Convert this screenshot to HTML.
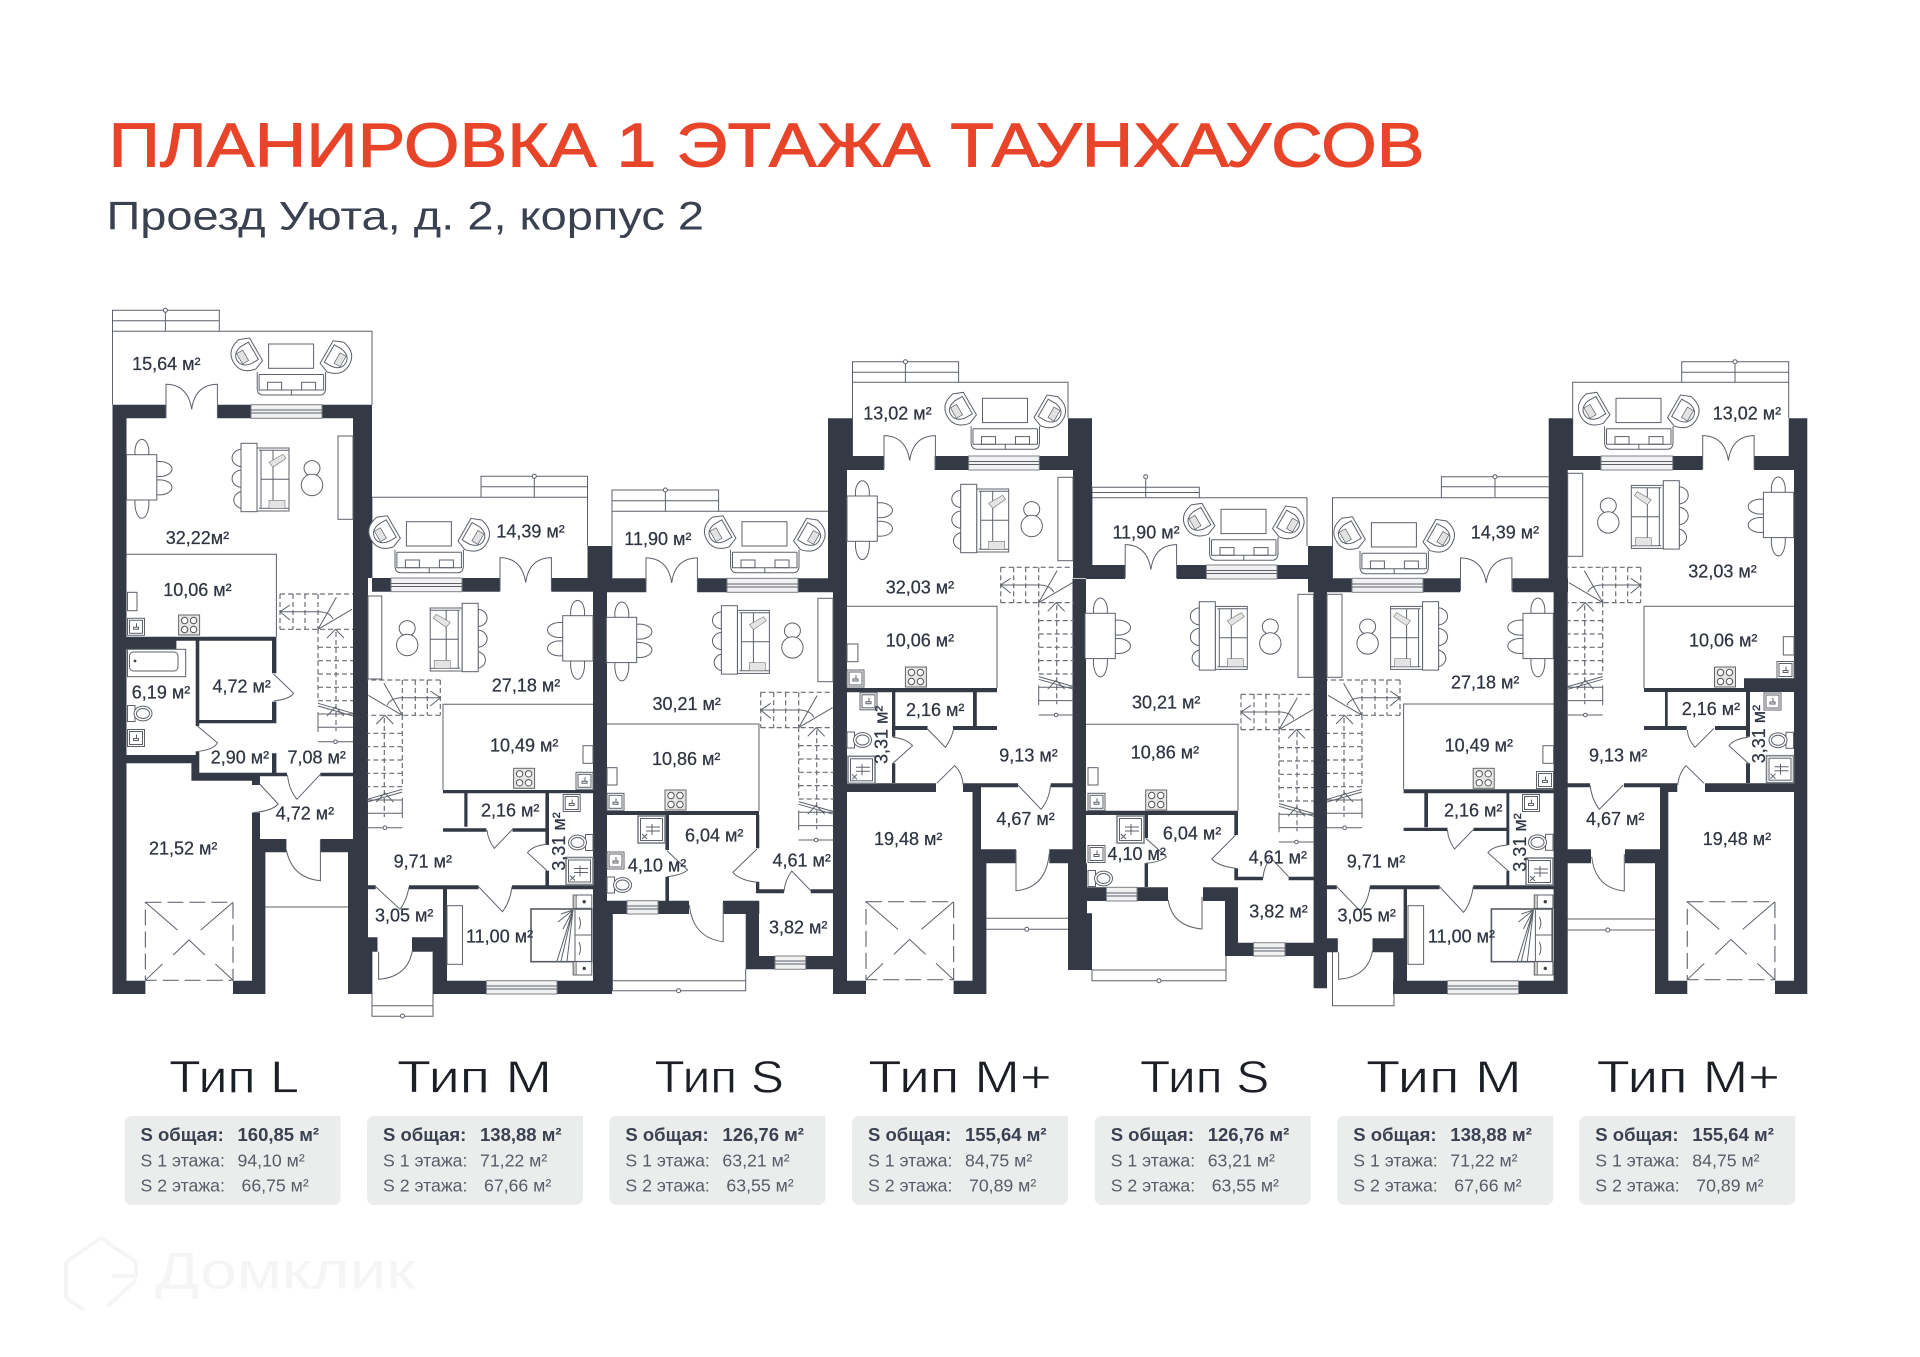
<!DOCTYPE html>
<html lang="ru"><head><meta charset="utf-8"><title>Планировка 1 этажа таунхаусов</title>
<style>
html,body{margin:0;padding:0;background:#fff}
svg{display:block}
text{font-family:"Liberation Sans",sans-serif}
.l{fill:none;stroke:#5c616a;stroke-width:1}
.f{fill:#fff;stroke:#5c616a;stroke-width:1}
.d{fill:none;stroke:#6a6f77;stroke-width:1.2;stroke-dasharray:5 3}
.w{fill:#343a45;stroke:none}
.win{fill:#f1f1f1;stroke:#7d8188;stroke-width:1}
.r{font-size:18px;fill:#2f3542;stroke:#2f3542;stroke-width:.25}
.c1{font-size:18.5px;font-weight:bold;fill:#3a4150}
.c2{font-size:17.7px;fill:#575d68}
.ty{font-size:45px;fill:#1c2026;stroke:#fff;stroke-width:.7}
</style></head><body>
<svg xmlns="http://www.w3.org/2000/svg" width="1920" height="1357" viewBox="0 0 1920 1357">
<defs>
<g id="ch"><path class="f" d="M8 -13L8 13L-2 17Q-18 14-18 0Q-18 -14-2 -17Z"/><path class="l" d="M5 -10V10H-4Q-14 8-14 0Q-14 -8-4 -10Z"/><rect x="-11" y="-6" width="7" height="12" fill="#e2e2e2" stroke="#5c616a" stroke-width=".7"/></g>
<g id="bal"><rect class="f" x="0" y="0" width="45" height="24.3"/><use href="#ch" transform="translate(-19.5,9.3) rotate(-30)"/><use href="#ch" transform="translate(65,12) rotate(-150)"/><path class="l" d="M-11.4 28V44Q-11.4 50.5-6 51H52Q57 50.5 57 44V28M-9.5 30.5H55M-9.5 30.5V46H55V30.5M22.8 46V51"/><rect class="l" x="-1" y="38.3" width="14" height="7.7"/><rect class="l" x="33" y="38.3" width="14" height="7.7"/></g>
<g id="sf"><path class="f" d="M0 6A10 8.7 0 0 0 0 23.3ZM0 26.7A10 8.7 0 0 0 0 44ZM0 48.3A10 8.7 0 0 0 0 65Z"/><rect class="f" x="16" y="4.7" width="32" height="63"/><path class="l" d="M20 7V65M32 7V65M20 36H48M18 7H48M18 65H48"/><path d="M28 19L42 11L45 15L32 24ZM28 57H44V65H28Z" fill="#e4e4e4" stroke="#777" stroke-width=".6"/><rect class="f" x="0" y="0" width="16" height="68.4"/><ellipse class="f" cx="71" cy="25" rx="8" ry="7.7"/><ellipse class="f" cx="71" cy="41.7" rx="10.7" ry="10.7"/></g>
<g id="dn"><ellipse class="f" cx="15.4" cy="-3" rx="7" ry="12.3"/><ellipse class="f" cx="15.4" cy="48.3" rx="7" ry="15.3"/><ellipse class="f" cx="33" cy="14.3" rx="12.5" ry="7.5"/><ellipse class="f" cx="33" cy="32.7" rx="12.5" ry="7.5"/><rect class="f" x="0" y="0" width="30.3" height="45.3"/></g>
<g id="stv"><rect x="0" y="0" width="21" height="20" fill="#e6e6e6" stroke="#666" stroke-width="1"/><g fill="#fff" stroke="#555" stroke-width="1"><circle cx="6" cy="5.5" r="3.2"/><circle cx="15" cy="5.5" r="3.2"/><circle cx="6" cy="14.5" r="3.2"/><circle cx="15" cy="14.5" r="3.2"/></g></g>
<g id="snk"><rect class="f" x="0" y="0" width="17" height="17" stroke="#777"/><rect class="l" x="2" y="2" width="13" height="13"/><path class="l" d="M6 9H11V11H6ZM9 5V9"/></g>
<g id="wc"><rect class="f" x="0" y="0" width="7.5" height="16"/><ellipse class="f" cx="15.5" cy="8" rx="9" ry="7.4"/><ellipse class="l" cx="15.5" cy="8" rx="6.5" ry="5"/></g>
<g id="sh"><rect x="0" y="0" width="27" height="27" fill="#fff" stroke="#7d8188" stroke-width="1.6"/><rect class="l" x="2.5" y="2.5" width="22" height="22"/><path class="l" d="M14 8V19M8 11H22M8 15H22M4 18L9 23M9 18L4 23"/></g>
<g id="bd"><rect x="0" y="0" width="60.8" height="52.7" fill="#fff" stroke="#555b63" stroke-width="1.6"/><path class="l" d="M44 1V52M44 26H60M42 1L27 13M42 1L30 5M42 1L32 20M42 1L30 52M42 1L26 52M42 1L36 52M48 8Q51 14 48 20M48 33Q51 40 48 46"/></g>
<g id="ns"><rect class="f" x="0" y="0" width="18.6" height="13.3"/><rect x="0" y="0" width="3" height="13.3" fill="#ccc" stroke="#555" stroke-width=".7"/><circle cx="11" cy="6.7" r="1.7" fill="#444"/></g>
<g id="gar"><path class="d" style="stroke-dasharray:16 6" d="M0 0H87.6V78H0Z"/><path class="l" d="M0 0L32 27.7M87.6 0L55.4 27.7M27.9 52.7L43.6 37.7L59.6 52.7M17 61.7L0 78M70 61.7L87.6 78"/></g>
<g id="stairs"><path class="d" d="M0 0H73M0 35.3H73M0 0V35.3M13 0V35.3M25 0V35.3M38 0V35.3M38 35V107M56 38V137M38 53.3H73M38 66.7H73M38 80H73M38 93.3H73M38 106.7H73"/><path class="l" d="M10 11L0 17.7L10 26M0 17.7H38.5Q50 18 53 25M38 35.3L56.4 3.3M38 35.3L72 15.3M47 44L55.4 35.3L64 44M38 109.3L73 119.3M38 112L73 122M38 120H73M38 133.3H73M38 118V138M38 147.7H73M47 122L55.4 113L64 122"/><circle class="f" cx="55.4" cy="147.7" r="1.8"/></g>
<g id="dd"><path class="l" d="M0 13V-20.4Q22 -20 25.7 4.6Q29 -20 51.4 -20.4V13"/></g>
<path id="card" d="M8 0H216V81Q216 89 208 89H8Q0 89 0 81V8Q0 0 8 0Z" fill="#ebecec"/>
</defs>

<!-- Title -->
<text x="108.5" y="166.7" font-size="62" fill="#e8442a" stroke="#e8442a" stroke-width="1" textLength="1316" lengthAdjust="spacingAndGlyphs">ПЛАНИРОВКА 1 ЭТАЖА ТАУНХАУСОВ</text>
<text x="106.5" y="229.3" font-size="40" fill="#3a4150" textLength="597.5" lengthAdjust="spacingAndGlyphs">Проезд Уюта, д. 2, корпус 2</text>

<!-- Balconies, rails, porches -->
<path class="l" d="M112.5 404.7V331.3H372V404.7M112.5 331.3V310.3H219.3V331.3M112.5 320.7H219.3M165.4 312V331
M372 578V497.3H587.5V546M481 497.3V476.3H587.5V497.3M481 486.7H587.5M534.3 478V497
M612 578V511.3H828M612 511.3V490H718.6V511.3M612 500.7H718.6M665.4 492V511
M852.5 456V382.3H1068V418M852.5 382.3V361.7H958.6V382.3M852.5 372.3H958.6M905.4 364V382
M1092 565V497.7H1307V546M1092 497.7V487.3H1199.3V497.7M1092 492.5H1199.3M1145.7 479V497
M1332.5 578V497.7H1548.6M1441.4 497.7V476.7H1548.6M1441.4 486.7H1548.6M1495 479V497
M1572.7 456V382.3H1788.7V418M1681.7 382.3V361.7H1788.7V382.3M1681.7 372.3H1788.7M1735 364V382
M265.4 907H348
M372 952V1016.3H433V952M372 1005.7H433
M612.5 914V990.7H745.7V969M612.5 980.7H745.7
M986.4 918.3H1068M986.4 929.3H1068
M1092 970V980.7H1226V956M1092 970H1226
M1332.5 952V1005.7H1394V994
M1567.7 919H1655M1567.7 930H1655"/>
<g fill="#fff" stroke="#5c616a"><circle cx="165.4" cy="310.3" r="2"/><circle cx="534.3" cy="476.3" r="2"/><circle cx="665.4" cy="490" r="2"/><circle cx="905.4" cy="361.7" r="2"/><circle cx="1145.7" cy="476.7" r="2"/><circle cx="1495" cy="476.7" r="2"/><circle cx="1735" cy="361.7" r="2"/><circle cx="402.5" cy="1016" r="2"/><circle cx="678.6" cy="990.7" r="2"/><circle cx="1026.8" cy="929.3" r="2"/><circle cx="1159" cy="980.7" r="2"/><circle cx="1607.7" cy="930" r="2"/></g>

<!-- Walls -->
<path class="w" d="M112.5 404.7H126.5V994H112.5ZM112.5 404.7H166V418.3H112.5ZM217.5 404.7H251V418.3H217.5ZM322 404.7H372V418.3H322ZM353 404.7H372V578H353ZM353 578H368V994H353ZM126.5 636.7H176.4V649.3H126.5ZM176 636.7H276.4V640.7H176ZM195.7 640H199.3V726H195.7ZM195.7 751.7H199.3V763H195.7ZM272 640H276.4V673.3H272ZM272 701.7H276.4V723.3H272ZM199 720H276.4V723.3H199ZM126.5 755H199.3V763.3H126.5ZM191.4 755H199.3V780.7H191.4ZM191.4 772.7H260V780.7H191.4ZM199 772.7H287V776.3H199ZM320.4 772.7H353V776.3H320.4ZM272 753.3H276.4V773H272ZM252 780.7H260V785H252ZM252 812.7H260V839H252ZM260 839H286.4V852.3H260ZM320.4 839H353V852.3H320.4ZM252 839H265.4V994H252ZM348 852.3H368V994H348ZM112.5 980.7H145.4V994H112.5ZM233 980.7H265.4V994H233Z
M372 578H391V591.7H372ZM462 578H500V591.7H462ZM551.4 578H593V591.7H551.4ZM587.5 546H612V578.3H587.5ZM593 578H607V994H593ZM443 790H593V793.3H443ZM464.3 793H467.5V826.7H464.3ZM443 828.3H486.4V831.7H443ZM512.5 828.3H545.4V831.7H512.5ZM545.4 793H549V845H545.4ZM545.4 870.7H549V889H545.4ZM367 885.3H375.7V889.3H367ZM409 885.3H478.6V889.3H409ZM512 885.3H593V889.3H512ZM443 889H447V980.7H443ZM367 937.3H377.5V951.7H367ZM412 937.3H447V951.7H412ZM348 951H372V994H348ZM433 951H447V994H433ZM433 980.7H486.4V994H433ZM557 980.7H612V994H557ZM607 900.7H612V994H607ZM607 900.7H627V914H607Z
M607 578.3H646.4V592.3H607ZM697 578.3H727V592.3H697ZM798 578.3H847V592.3H798ZM607 811H759V815H607ZM665.4 815H669V850H665.4ZM665.4 876.7H669V900.7H665.4ZM756 815H759.3V848.3H756ZM756 881.7H759.3V893.3H756ZM759 889.3H784V893.3H759ZM810.7 889.3H833V893.3H810.7ZM658 900.7H689V914H658ZM723 900.7H759.3V914H723ZM745.7 914H759V969.3H745.7ZM759 956H775V969.3H759ZM805.7 956H833V969.3H805.7Z
M828 418.3H852.5V456H828ZM828 456H847V578.3H828ZM833 578H847V994H833ZM847 456H884V470H847ZM934.6 456H968.6V470H934.6ZM1039.3 456H1092V470H1039.3ZM1068 418.3H1092V470H1068ZM1073 456H1092V578.3H1073ZM847 688H997V692.3H847ZM973 692H976.8V726H973ZM892.9 726H927.5V730H892.9ZM953 726H997V730H953ZM892 692H895.3V736.7H892ZM892 763.3H895.3V783H892ZM847 783.3H936V792H847ZM963 783.3H981V792H963ZM972.5 783.3H981V850H972.5ZM1050.7 783.3H1073V787.3H1050.7ZM981 783.3H1018V787.3H981ZM972.5 849.3H1016V863.3H972.5ZM1049.3 849.3H1073V863.3H1049.3ZM972.5 850H986.4V994H972.5ZM833 980.7H866V994H833ZM953.6 980.7H986.4V994H953.6ZM1072.5 579H1086V915H1072.5ZM1068 863.3H1087V970H1068ZM1068 913.3H1092V970H1068Z
M1086 565H1125V579H1086ZM1176.8 565H1206.4V579H1176.8ZM1277 565H1332.5V579H1277ZM1308 546H1332.5V578.3H1308ZM1308 578.3H1352V592.3H1308ZM1423 578.3H1460V592.3H1423ZM1512.5 578.3H1568V592.3H1512.5ZM1313.6 592H1327V988.3H1313.6ZM1086 810.7H1238V815H1086ZM1144.6 815H1148V838H1144.6ZM1144.6 863.3H1148V887H1144.6ZM1234.3 815H1238V835H1234.3ZM1234.3 868.3H1238V880.3H1234.3ZM1238 876.7H1263V880.3H1238ZM1288.6 876.7H1313.6V880.3H1288.6ZM1086 887.3H1106.4V901H1086ZM1137 887.3H1168V901H1137ZM1203 887.3H1238V901H1203ZM1225 901H1238V956H1225ZM1238 942.7H1253.6V956H1238ZM1285 942.7H1313.6V956H1285Z
M1403.6 789.3H1553.6V793.3H1403.6ZM1424.3 793H1428V827.3H1424.3ZM1403.6 827.7H1447.5V831H1403.6ZM1473.6 827.7H1506.4V831H1473.6ZM1506.4 793H1509.3V845H1506.4ZM1506.4 870.7H1509.3V889H1506.4ZM1327 885.3H1336.8V889.3H1327ZM1370 885.3H1439.6V889.3H1370ZM1473.2 885.3H1554V889.3H1473.2ZM1403.6 889H1407V980.7H1403.6ZM1327 938.3H1337.8V952.3H1327ZM1372.5 938.3H1407V952.3H1372.5ZM1393.2 952H1407V994H1393.2ZM1393 980.7H1447.5V994H1393ZM1518.6 980.7H1567.7V994H1518.6ZM1553.6 592H1567.7V994H1553.6Z
M1548.7 418.3H1572.7V456H1548.7ZM1548.7 456H1567.7V592H1548.7ZM1567.7 456H1601V470H1567.7ZM1672.7 456H1702.7V470H1672.7ZM1754 456H1807.3V470H1754ZM1788.7 418.3H1807.3V456H1788.7ZM1794 470H1807.3V994H1794ZM1744 678.3H1794V692H1744ZM1644 688H1794V692H1644ZM1665 692H1667.7V726.7H1665ZM1644 726H1686.7V730H1644ZM1715 726H1746.7V730H1715ZM1746 692H1750V736.7H1746ZM1746 763.3H1750V783H1746ZM1705 783.3H1794V792H1705ZM1660 783.3H1677.3V792H1660ZM1567.7 783.3H1590V787.3H1567.7ZM1624 783.3H1660V787.3H1624ZM1660 787H1668.3V850H1660ZM1655 849.3H1668.3V994H1655ZM1567.7 849.3H1591V863.3H1567.7ZM1625 849.3H1660V863.3H1625ZM1655 980.7H1687.3V994H1655ZM1775 980.7H1807.3V994H1775Z"/>

<!-- Windows -->
<g class="win"><rect x="251" y="404.7" width="71" height="13.6"/><rect x="391" y="578" width="71" height="13.7"/><rect x="727" y="578.3" width="71" height="14"/><rect x="968.6" y="456" width="70.7" height="14"/><rect x="1206.4" y="565" width="70.6" height="14"/><rect x="1352" y="578.3" width="71" height="14"/><rect x="1601" y="456" width="71.7" height="14"/><rect x="486.4" y="980.7" width="70.6" height="13.3"/><rect x="1447.5" y="980.7" width="71" height="13.3"/><rect x="627" y="900.7" width="31" height="13.3"/><rect x="775" y="956" width="30.7" height="13.3"/><rect x="1106.4" y="887.3" width="30.6" height="13.7"/><rect x="1253.6" y="942.7" width="31.4" height="13.3"/></g>
<path class="l" d="M251 410H322M251 413H322M391 583.5H462M391 586.5H462M727 584H798M727 587H798M968.6 461.5H1039.3M968.6 464.5H1039.3M1206.4 570.5H1277M1206.4 573.5H1277M1352 584H1423M1352 587H1423M1601 461.5H1672.7M1601 464.5H1672.7M486.4 986H557M486.4 989H557M1447.5 986H1518.5M1447.5 989H1518.5M627 906H658M627 909H658M775 961H805.7M775 964H805.7M1106.4 893H1137M1106.4 896H1137M1253.6 948H1285M1253.6 951H1285"/>

<!-- Kitchen / room thin outlines -->
<path class="l" d="M126.5 554.3H276.4V636.7M443 790V704.3H593M759 811V724H607M847 606.3H997V688M1086 724.3H1238V810.7M1403.6 789.3V704H1553.6M1644 688V606.3H1794"/>

<!-- Wardrobes, counters -->
<g class="f"><rect x="338" y="436" width="15" height="83.3"/><rect x="368" y="596" width="13.8" height="83"/><rect x="817.9" y="598.3" width="15.1" height="83.4"/><rect x="1057.9" y="477.3" width="15.1" height="83.4"/><rect x="1298" y="594.3" width="15.6" height="83"/><rect x="1327" y="594.3" width="15" height="83"/><rect x="1567.7" y="473.3" width="15" height="83"/><rect x="447" y="905.7" width="15.5" height="58.6"/><rect x="1408" y="905.7" width="15.6" height="58.6"/>
<rect x="127.5" y="592.3" width="9.5" height="18.4"/><rect x="583" y="745.7" width="10" height="17.6"/><rect x="607" y="767.7" width="10" height="17.3"/><rect x="847" y="644" width="10.9" height="17.7"/><rect x="1088" y="767.7" width="10" height="17.3"/><rect x="1542.9" y="745.7" width="10.7" height="17.6"/><rect x="1783.3" y="636.7" width="10.7" height="18.3"/></g>

<!-- Balcony furniture -->
<use href="#bal" x="268.6" y="344"/><use href="#bal" x="406.4" y="521.7"/><use href="#bal" x="742" y="521.7"/><use href="#bal" x="982.5" y="398.3"/><use href="#bal" x="1221" y="509.3"/><use href="#bal" x="1371.4" y="522.7"/><use href="#bal" x="1616" y="398.3"/>

<!-- Sofa sets -->
<use href="#sf" x="241" y="443.3"/><use href="#sf" x="721.4" y="605.7"/><use href="#sf" x="960.7" y="484.3"/><use href="#sf" x="1199.3" y="601.7"/>
<use href="#sf" transform="translate(478.2,603.3) scale(-1,1)"/><use href="#sf" transform="translate(1438.6,601.7) scale(-1,1)"/><use href="#sf" transform="translate(1679.3,480.7) scale(-1,1)"/>

<!-- Dining -->
<use href="#dn" x="126.5" y="454.7"/><use href="#dn" x="606.4" y="617.3"/><use href="#dn" x="847" y="496"/><use href="#dn" x="1085" y="613.3"/>
<use href="#dn" transform="translate(593,615.7) scale(-1,1)"/><use href="#dn" transform="translate(1553.3,613.3) scale(-1,1)"/><use href="#dn" transform="translate(1793.7,492.3) scale(-1,1)"/>

<!-- Stairs -->
<use href="#stairs" x="280" y="594"/><use href="#stairs" x="760.7" y="692.3"/><use href="#stairs" x="1000.7" y="567.3"/><use href="#stairs" x="1241" y="694.3"/>
<use href="#stairs" transform="translate(440.3,680) scale(-1,1)"/><use href="#stairs" transform="translate(1400,680) scale(-1,1)"/><use href="#stairs" transform="translate(1640.7,567.3) scale(-1,1)"/>

<!-- Kitchens -->
<use href="#stv" x="178.6" y="615"/><use href="#stv" x="513.6" y="768.3"/><use href="#stv" x="665" y="790"/><use href="#stv" x="905.4" y="667"/><use href="#stv" x="1145.7" y="790"/><use href="#stv" x="1473.2" y="768.3"/><use href="#stv" x="1714.5" y="667"/>
<use href="#snk" x="127.5" y="618.3"/><use href="#snk" x="576" y="772.3"/><use href="#snk" x="607" y="793.3"/><use href="#snk" x="847" y="670"/><use href="#snk" x="1088" y="793.3"/><use href="#snk" x="1536.5" y="771.5"/><use href="#snk" x="1777" y="661.5"/>

<!-- Bathrooms -->
<rect class="f" x="127.5" y="649.3" width="58.2" height="27.4"/><rect class="l" x="129.5" y="652" width="48.5" height="19" rx="4"/><circle cx="135" cy="661" r="1.4" fill="#444"/>
<use href="#wc" x="127.5" y="705.5"/><use href="#snk" x="127.5" y="729.5"/>
<use href="#snk" x="563.2" y="794.5"/><use href="#wc" transform="translate(593,834.5) scale(-1,1)"/><use href="#sh" x="566" y="857.5"/>
<use href="#snk" x="860" y="692.8"/><use href="#wc" x="847" y="732"/><use href="#sh" x="848" y="756.3"/>
<use href="#sh" x="638" y="816"/><use href="#snk" x="607" y="852"/><use href="#wc" x="607" y="877"/>
<use href="#sh" x="1117" y="816"/><use href="#snk" x="1088" y="845.5"/><use href="#wc" x="1088" y="870.5"/>
<use href="#snk" x="1522.5" y="794.5"/><use href="#wc" transform="translate(1553,834.3) scale(-1,1)"/><use href="#sh" x="1526" y="858"/>
<use href="#snk" x="1764" y="693"/><use href="#wc" transform="translate(1793.5,732.3) scale(-1,1)"/><use href="#sh" x="1766.5" y="755.7"/>

<!-- Beds -->
<use href="#bd" x="531" y="909"/><use href="#ns" x="573.2" y="895"/><use href="#ns" x="573.2" y="961.7"/>
<use href="#bd" x="1491.4" y="909"/><use href="#ns" x="1534.3" y="895"/><use href="#ns" x="1534.3" y="961.7"/>

<!-- Garage doors -->
<use href="#gar" x="145.4" y="902.3"/><use href="#gar" x="866" y="901.7"/><use href="#gar" x="1687.3" y="901.7"/>

<!-- Double doors -->
<use href="#dd" x="166" y="404.7"/><use href="#dd" x="500" y="578"/><use href="#dd" x="646" y="578.3"/><use href="#dd" x="884" y="456"/><use href="#dd" x="1125.2" y="565"/><use href="#dd" x="1460.5" y="578.3"/><use href="#dd" x="1702.7" y="456"/>

<!-- Doors -->
<path class="l" d="M273.6 674L293.6 693.3Q290 699 273.6 701M197 725.7L217.5 742.7Q214 750 195.7 751.7M320.4 774.3L297 799.3Q289 790 287.5 775M259.6 784L278.2 804Q272 811 252.5 812.7M320.4 840V880.7Q292 878 286.4 850
M512.5 829.3L494.3 848.3Q488 840 487 830M547 870.7L527.5 852.7Q532 846 547 844.3M375.7 886.7L400 909.3Q407 900 409 886.7M478.6 886.7L502.5 911.7Q510 902 512 886.7M378.6 951.7V979.3Q408 977 412.5 950
M667 850.7L687.5 870Q682 875 667 876.7M757 849L732.9 872.3Q739 880 757 882.3M810.7 890.7L791.8 871Q785 880 784 891.7M723.2 903V941.7Q693 938 689.3 905
M927.5 729L945.4 747.3Q952 738 953.6 729M892.9 763.3L912.5 745.7Q907 739 892.9 737.3M936.8 783.3L954.6 765.7Q962 772 963.2 785M1017.9 785L1041 809.3Q1049 800 1050.7 785M1016 850V890.7Q1046 888 1049.3 853.3
M1145.7 838.3L1166.4 856.7Q1161 862 1145.7 863.3M1235.7 835L1211.8 859Q1218 866 1235.7 868.3M1288.6 876.7L1270.7 857.7Q1264 866 1262.9 878.3M1202 896.7V929Q1172 926 1168.2 900
M1473.6 829.3L1454.6 849Q1448 840 1447.5 830M1508 870.7L1487.9 852.7Q1493 846 1508 845M1336.8 886.7L1360 910.7Q1368 902 1370 886.7M1439.6 886.7L1463.6 912.3Q1471 903 1473.2 886.7M1338.6 952.3V979.3Q1368 977 1372.5 950.7
M1714 728.3L1695 747.3Q1688 740 1687.3 730M1748.3 763.3L1729 745.7Q1734 739 1748.3 737.3M1704 783.3L1686 765.7Q1679 773 1677.7 785M1623.3 785L1599.3 809.3Q1592 800 1590 785M1624.3 854V891Q1595 888 1591.7 856.7"/>

<!-- Room labels -->
<g class="r">
<text x="132.1" y="370">15,64 м²</text><text x="165.7" y="544">32,22м²</text><text x="163.2" y="596">10,06 м²</text><text x="131.8" y="698.7">6,19 м²</text><text x="212.5" y="692.7">4,72 м²</text><text x="210.7" y="763.3">2,90 м²</text><text x="287.5" y="763.3">7,08 м²</text><text x="275.7" y="819.3">4,72 м²</text><text x="149" y="854.3">21,52 м²</text>
<text x="496.4" y="537.7">14,39 м²</text><text x="491.8" y="691.7">27,18 м²</text><text x="490" y="751.7">10,49 м²</text><text x="481" y="816.7">2,16 м²</text><text x="393.6" y="867.3">9,71 м²</text><text x="375" y="921.7">3,05 м²</text><text x="466" y="942.7">11,00 м²</text><text transform="translate(565,870.7) rotate(-90)">3,31 м²</text>
<text x="624.3" y="545">11,90 м²</text><text x="652.5" y="710">30,21 м²</text><text x="652" y="765">10,86 м²</text><text x="685" y="841.7">6,04 м²</text><text x="627.9" y="871.7">4,10 м²</text><text x="772.5" y="866.7">4,61 м²</text><text x="769" y="933.3">3,82 м²</text>
<text x="863.2" y="419.3">13,02 м²</text><text x="885.7" y="593.3">32,03 м²</text><text x="885.7" y="646.7">10,06 м²</text><text x="906" y="716">2,16 м²</text><text x="999.3" y="761.7">9,13 м²</text><text x="996.4" y="825">4,67 м²</text><text x="874" y="845">19,48 м²</text><text transform="translate(887.5,764) rotate(-90)">3,31 м²</text>
<text x="1112.5" y="538.3">11,90 м²</text><text x="1132" y="708.3">30,21 м²</text><text x="1130.7" y="758.3">10,86 м²</text><text x="1162.9" y="839.3">6,04 м²</text><text x="1107.5" y="860">4,10 м²</text><text x="1248.6" y="863.3">4,61 м²</text><text x="1249.3" y="917.3">3,82 м²</text>
<text x="1470.7" y="538.3">14,39 м²</text><text x="1451" y="688.3">27,18 м²</text><text x="1444.6" y="751.7">10,49 м²</text><text x="1444" y="816.7">2,16 м²</text><text x="1346.8" y="867.3">9,71 м²</text><text x="1337.5" y="921.7">3,05 м²</text><text x="1427.9" y="942.7">11,00 м²</text><text transform="translate(1526,871.7) rotate(-90)">3,31 м²</text>
<text x="1712.7" y="419.3">13,02 м²</text><text x="1688.3" y="577.7">32,03 м²</text><text x="1689" y="646.7">10,06 м²</text><text x="1681.7" y="715">2,16 м²</text><text x="1589" y="761.7">9,13 м²</text><text x="1586" y="825">4,67 м²</text><text x="1702.7" y="845">19,48 м²</text><text transform="translate(1765,763.3) rotate(-90)">3,31 м²</text>
</g>

<!-- Type headings -->
<g class="ty">
<text x="169" y="1092.3" textLength="130" lengthAdjust="spacingAndGlyphs">Тип L</text>
<text x="397" y="1092.3" textLength="155" lengthAdjust="spacingAndGlyphs">Тип M</text>
<text x="654.5" y="1092.3" textLength="129.5" lengthAdjust="spacingAndGlyphs">Тип S</text>
<text x="868.3" y="1092.3" textLength="183.4" lengthAdjust="spacingAndGlyphs">Тип M+</text>
<text x="1140" y="1092.3" textLength="129.3" lengthAdjust="spacingAndGlyphs">Тип S</text>
<text x="1366" y="1092.3" textLength="155.7" lengthAdjust="spacingAndGlyphs">Тип M</text>
<text x="1596.7" y="1092.3" textLength="183.3" lengthAdjust="spacingAndGlyphs">Тип M+</text>
</g>

<!-- Cards -->
<g transform="translate(124.5,1116)"><use href="#card"/><text class="c1" x="16" y="25">S общая:<tspan x="113">160,85 м²</tspan></text><text class="c2" x="16" y="50.3">S 1 этажа:<tspan x="113">94,10 м²</tspan></text><text class="c2" x="16" y="75.7">S 2 этажа:<tspan x="117">66,75 м²</tspan></text></g>
<g transform="translate(367,1116)"><use href="#card"/><text class="c1" x="16" y="25">S общая:<tspan x="113">138,88 м²</tspan></text><text class="c2" x="16" y="50.3">S 1 этажа:<tspan x="113">71,22 м²</tspan></text><text class="c2" x="16" y="75.7">S 2 этажа:<tspan x="117">67,66 м²</tspan></text></g>
<g transform="translate(609.4,1116)"><use href="#card"/><text class="c1" x="16" y="25">S общая:<tspan x="113">126,76 м²</tspan></text><text class="c2" x="16" y="50.3">S 1 этажа:<tspan x="113">63,21 м²</tspan></text><text class="c2" x="16" y="75.7">S 2 этажа:<tspan x="117">63,55 м²</tspan></text></g>
<g transform="translate(852,1116)"><use href="#card"/><text class="c1" x="16" y="25">S общая:<tspan x="113">155,64 м²</tspan></text><text class="c2" x="16" y="50.3">S 1 этажа:<tspan x="113">84,75 м²</tspan></text><text class="c2" x="16" y="75.7">S 2 этажа:<tspan x="117">70,89 м²</tspan></text></g>
<g transform="translate(1094.7,1116)"><use href="#card"/><text class="c1" x="16" y="25">S общая:<tspan x="113">126,76 м²</tspan></text><text class="c2" x="16" y="50.3">S 1 этажа:<tspan x="113">63,21 м²</tspan></text><text class="c2" x="16" y="75.7">S 2 этажа:<tspan x="117">63,55 м²</tspan></text></g>
<g transform="translate(1337.3,1116)"><use href="#card"/><text class="c1" x="16" y="25">S общая:<tspan x="113">138,88 м²</tspan></text><text class="c2" x="16" y="50.3">S 1 этажа:<tspan x="113">71,22 м²</tspan></text><text class="c2" x="16" y="75.7">S 2 этажа:<tspan x="117">67,66 м²</tspan></text></g>
<g transform="translate(1579.3,1116)"><use href="#card"/><text class="c1" x="16" y="25">S общая:<tspan x="113">155,64 м²</tspan></text><text class="c2" x="16" y="50.3">S 1 этажа:<tspan x="113">84,75 м²</tspan></text><text class="c2" x="16" y="75.7">S 2 этажа:<tspan x="117">70,89 м²</tspan></text></g>

<!-- Watermark -->
<path d="M66 1262L101 1238L136 1262V1276H112M66 1262V1298M66 1298L84 1310M136 1280L108 1306" fill="none" stroke="#f5f5f5" stroke-width="4"/>
<text x="155" y="1288.3" font-size="52" fill="#f5f5f5" textLength="260" lengthAdjust="spacingAndGlyphs">Домклик</text>
</svg>
</body></html>
